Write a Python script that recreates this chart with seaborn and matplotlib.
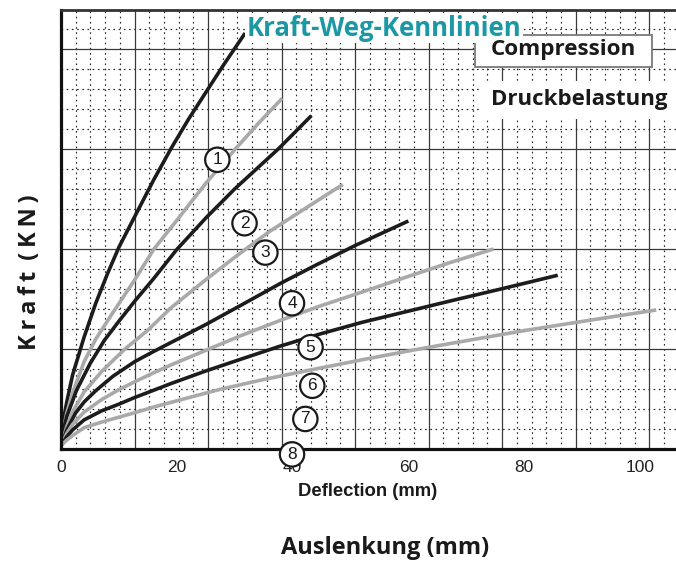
import matplotlib
matplotlib.use("Agg")
import numpy as np
import pandas as pd
import matplotlib.pyplot as plt
from matplotlib.patches import Rectangle
from matplotlib.ticker import MultipleLocator, NullFormatter
import seaborn as sns

# Force-deflection characteristics of eight rubber springs (compression)
defl_1 = [0, 0.5, 1, 2, 4, 6, 8, 10, 13, 16, 19, 22, 25, 28, 31.8]
force_1 = [0.15, 1.4, 2.1, 3.3, 5.0, 6.5, 7.8, 9.0, 10.5, 12.0, 13.4, 14.7, 15.9, 17.1, 18.55]

defl_2 = [0, 0.5, 1, 2, 4, 6, 9, 12.75, 16, 20, 25, 30, 34, 38.2]
force_2 = [0.15, 1.0, 1.6, 2.5, 3.9, 4.9, 6.1, 7.55, 8.9, 10.2, 11.85, 13.35, 14.5, 15.64]

defl_3 = [0, 0.5, 1, 2.65, 5, 7.5, 10, 12.75, 16, 20, 25, 30, 37.6, 43.25]
force_3 = [0.15, 0.95, 1.45, 2.6, 3.8, 4.85, 5.7, 6.6, 7.6, 8.9, 10.3, 11.6, 13.4, 14.87]

defl_4 = [0, 1, 2, 4, 7, 11, 15, 19, 25, 30, 36, 42, 48.67]
force_4 = [0.15, 1.0, 1.65, 2.55, 3.45, 4.45, 5.3, 6.3, 7.55, 8.55, 9.7, 10.7, 11.8]

defl_5 = [0, 1, 2.5, 4, 6, 9, 12.75, 16, 19, 25, 31, 38, 44, 51, 60]
force_5 = [0.15, 0.85, 1.6, 2.1, 2.6, 3.25, 3.9, 4.35, 4.75, 5.55, 6.4, 7.4, 8.2, 9.1, 10.17]

defl_6 = [0, 1, 2, 4, 7, 10, 12.75, 16, 19, 25, 31, 38, 45, 52, 60, 67, 74.7]
force_6 = [0.15, 0.7, 1.1, 1.65, 2.2, 2.65, 3.0, 3.4, 3.75, 4.4, 5.05, 5.75, 6.4, 7.0, 7.7, 8.3, 8.92]

defl_7 = [0, 1, 2, 4, 7, 10, 12.75, 16, 19, 25, 31, 38, 45, 52, 60, 68, 76.2, 85.8]
force_7 = [0.15, 0.55, 0.85, 1.3, 1.7, 2.0, 2.3, 2.62, 2.92, 3.48, 4.0, 4.6, 5.15, 5.65, 6.15, 6.65, 7.15, 7.75]

defl_8 = [0, 1, 2, 4, 7, 10, 12.75, 16, 20, 27, 35, 43, 52, 61, 70, 80, 91, 102.8]
force_8 = [0.15, 0.4, 0.6, 0.95, 1.2, 1.42, 1.62, 1.87, 2.15, 2.63, 3.1, 3.52, 3.98, 4.42, 4.83, 5.28, 5.73, 6.2]

curve_names = ["1", "2", "3", "4", "5", "6", "7", "8"]
curve_defl = [defl_1, defl_2, defl_3, defl_4, defl_5, defl_6, defl_7, defl_8]
curve_force = [force_1, force_2, force_3, force_4, force_5, force_6, force_7, force_8]

# circled curve numbers (deflection, force)
marker_x = [27.0, 31.7, 35.3, 39.9, 43.1, 43.4, 42.2, 39.9]
marker_y = [12.9, 10.07, 8.76, 6.5, 4.54, 2.82, 1.34, -0.24]

x_ticks = [0, 20, 40, 60, 80, 100]

df = pd.concat(
    [pd.DataFrame({"curve": n, "defl": d, "force": f})
     for n, d, f in zip(curve_names, curve_defl, curve_force)],
    ignore_index=True,
)

sns.set_style("white")
plt.rcParams["font.family"] = ["Liberation Sans", "DejaVu Sans"]

W, H = 676, 561
fig = plt.figure(figsize=(W / 100, H / 100), dpi=100)
ax = fig.add_axes([61 / W, 112 / H, 615 / W, 439 / H])

XMAX = 615 / 5.79
YMAX = 439 / 22.42
ax.set_xlim(0, XMAX)
ax.set_ylim(0, YMAX)

# inch-ruled paper grid: solid every 12.7 mm, dotted every 2.54 mm
gx_minor = 2.54
gy_minor = 100 / 22.42 / 5
dot = (0, (1.4, 3.0))
for k in range(1, int(XMAX / gx_minor) + 1):
    xv = k * gx_minor
    if k % 5 == 0:
        ax.axvline(xv, color="#3a3a3a", lw=0.9, zorder=0.5)
    else:
        ax.axvline(xv, color="#2a2a2a", lw=0.85, ls=dot, zorder=0.5)
for k in range(1, int(YMAX / gy_minor) + 1):
    yv = k * gy_minor
    if k % 5 == 0:
        ax.axhline(yv, color="#3a3a3a", lw=0.9, zorder=0.5)
    else:
        ax.axhline(yv, color="#2a2a2a", lw=0.85, ls=dot, zorder=0.5)

palette = {n: ("#1c1c1c" if i % 2 == 0 else "#a9a9a9") for i, n in enumerate(curve_names)}
sns.lineplot(data=df, x="defl", y="force", hue="curve", palette=palette,
             estimator=None, sort=False, lw=2.6, legend=False, ax=ax, zorder=2)
for line in ax.get_lines():
    line.set_solid_capstyle("butt")
    line.set_solid_joinstyle("round")

for name, mx, my in zip(curve_names, marker_x, marker_y):
    ax.text(mx, my, name, ha="center", va="center", fontsize=12.5, color="#1a1a1a",
            zorder=10, clip_on=False,
            bbox=dict(boxstyle="circle,pad=0.27", fc="white", ec="#1a1a1a", lw=1.6))

# axes frame
ax.spines["right"].set_visible(False)
ax.spines["left"].set_linewidth(2.3)
ax.spines["left"].set_color("#111111")
ax.spines["bottom"].set_linewidth(2.3)
ax.spines["bottom"].set_color("#111111")
ax.spines["top"].set_linewidth(2.0)
ax.spines["top"].set_color("#333333")

ax.set_xticks(x_ticks)
ax.xaxis.set_minor_locator(MultipleLocator(5))
ax.yaxis.set_major_locator(MultipleLocator(1))
ax.yaxis.set_major_formatter(NullFormatter())
ax.tick_params(axis="x", which="major", direction="inout", length=10, width=1.5,
               labelsize=12.5, pad=3, colors="#111111", labelcolor="#222222")
ax.tick_params(axis="x", which="minor", direction="inout", length=6, width=1.5,
               colors="#111111")
ax.tick_params(axis="y", which="major", direction="inout", length=7, width=1.5,
               colors="#111111")
ax.set_xlabel("")
ax.set_ylabel("")

fig.text(368 / W, 1 - 491 / H, "Deflection (mm)", ha="center", va="center",
         fontsize=13.3, fontweight="bold", color="#1a1a1a")

hfont = ["Open Sans", "DejaVu Sans"]
fig.text(385 / W, 1 - 548 / H, "Auslenkung (mm)", ha="center", va="center",
         fontsize=17, fontweight="bold", color="#1a1a1a", family=hfont)
fig.text(30 / W, 1 - 272 / H, "K\u2009r\u2009a\u2009f\u2009t\u2009 (\u2009K\u2009N\u2009)",
         ha="center", va="center", rotation=90, fontsize=17, fontweight="bold",
         color="#1a1a1a", family=hfont)
fig.text(384 / W, 1 - 28 / H, "Kraft-Weg-Kennlinien", ha="center", va="center",
         fontsize=18.5, fontweight="bold", color="#1b98a3", family=hfont, zorder=5,
         bbox=dict(boxstyle="square,pad=0.05", fc="white", ec="none"))

# boxed "Compression" caption
fig.patches.append(Rectangle((475 / W, 1 - 67 / H), 177 / W, 32 / H,
                             transform=fig.transFigure, fc="white", ec="#7a7a7a",
                             lw=1.3, zorder=4))
fig.text(563 / W, 1 - 50 / H, "Compression", ha="center", va="center",
         fontsize=16.2, fontweight="bold", color="#1a1a1a", family=hfont, zorder=5)
fig.text(579 / W, 1 - 100 / H, "Druckbelastung", ha="center", va="center",
         fontsize=16, fontweight="bold", color="#1a1a1a", family=hfont, zorder=5,
         bbox=dict(boxstyle="square,pad=0.4", fc="white", ec="none"))

fig.savefig("out.png", dpi=100)
